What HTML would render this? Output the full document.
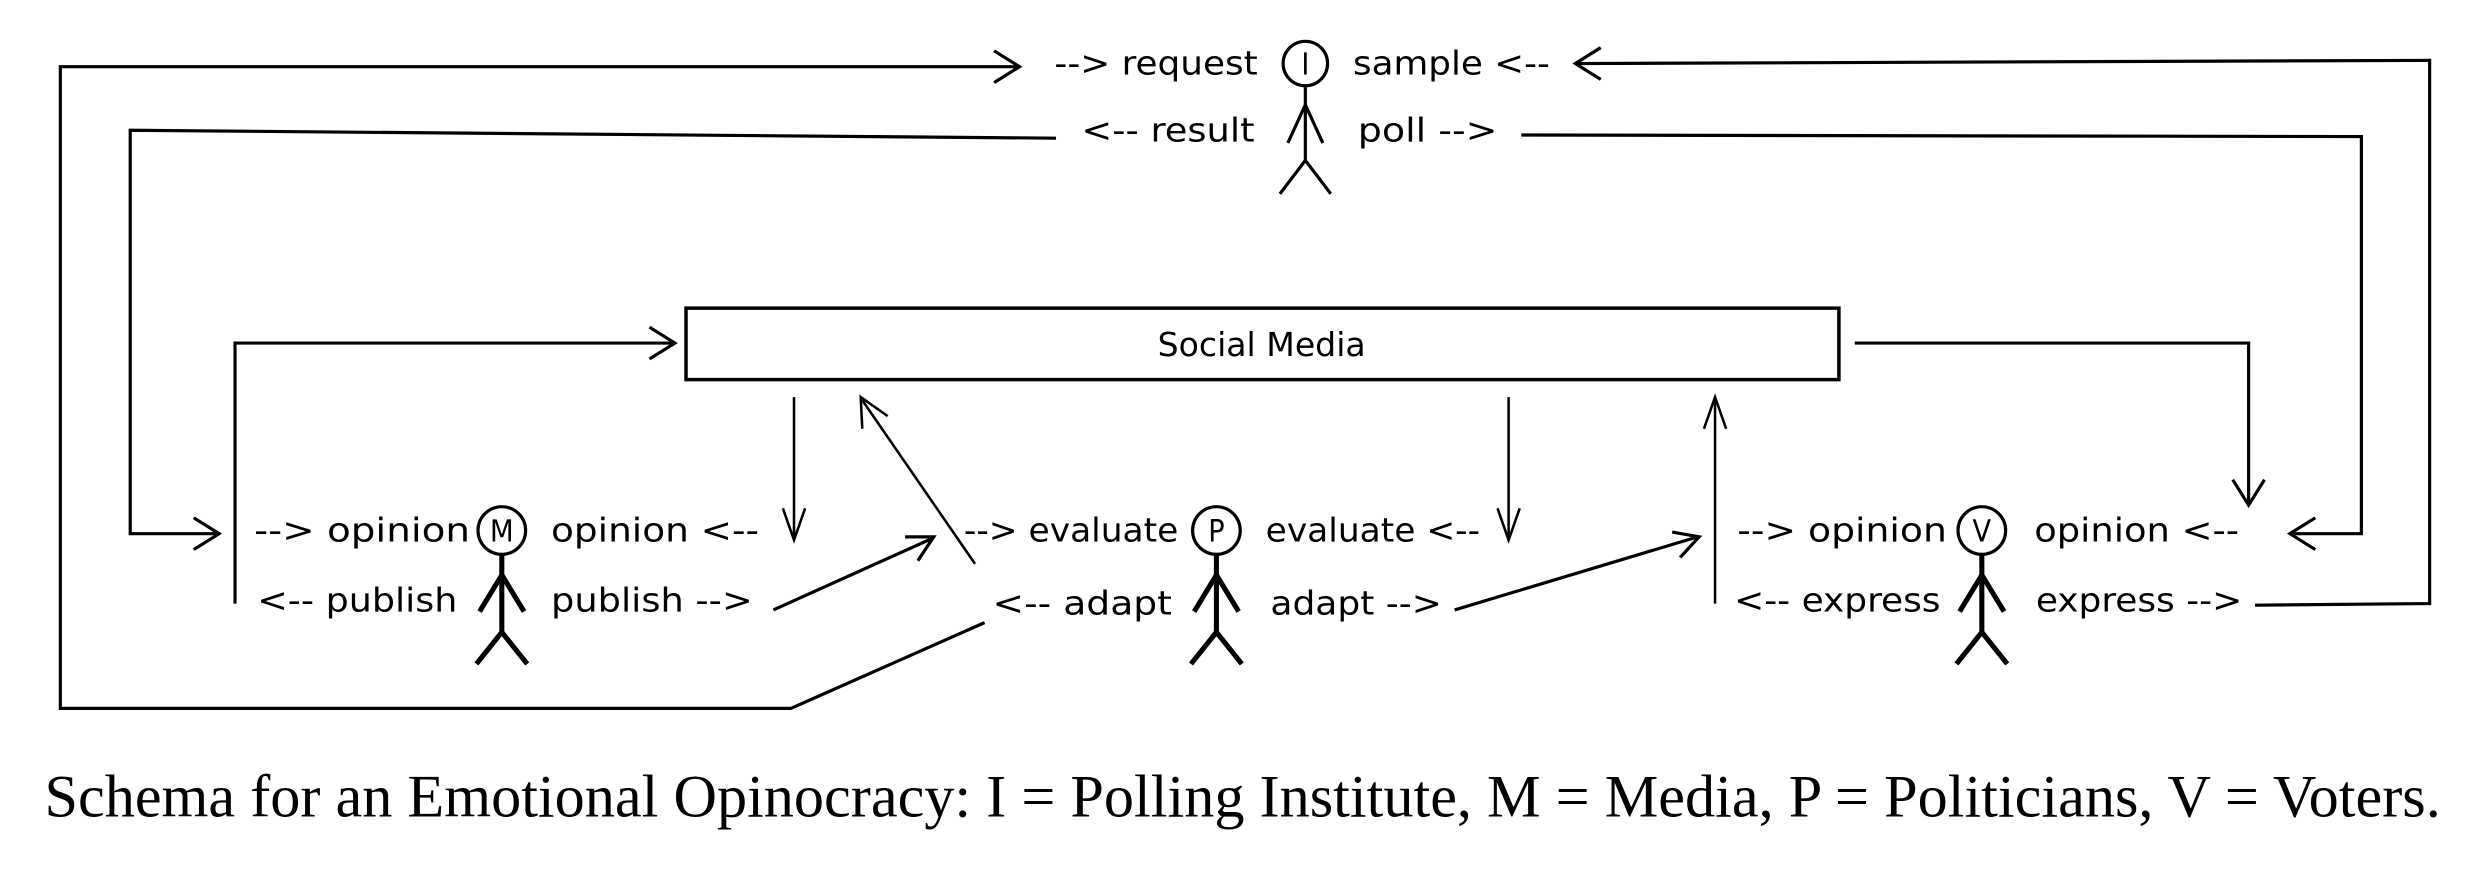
<!DOCTYPE html>
<html><head><meta charset="utf-8"><style>html,body{margin:0;padding:0;background:#fff;}svg{display:block}</style></head>
<body>
<svg width="2490" height="872" viewBox="0 0 1568 549" preserveAspectRatio="none" xmlns="http://www.w3.org/2000/svg">
<g fill="none" stroke="#000" stroke-width="2" stroke-linejoin="miter">
<polyline points="620,392 498,446 38,446 38,42 640,42"/>
<polyline points="626,32 642,42 626,52"/>
<polyline points="665,87 82,82 82,336 136,336"/>
<polyline points="122,326 138,336 122,346"/>
<polyline points="148,380 148,216 423,216"/>
<polyline points="409,206 425,216 409,226"/>
<rect x="432" y="194" width="726" height="45" stroke-width="2.2"/>
<polyline points="1168,216 1416,216 1416,316"/>
<polyline points="1406,302 1416,318 1426,302"/>
<polyline points="958,85 1487,86 1487,336 1444,336"/>
<polyline points="1458,326 1442,336 1458,346"/>
<polyline points="1420,381 1530,380 1530,38 994,40"/>
<polyline points="1008,30 992,40 1008,50"/>
<line x1="500" y1="250" x2="500" y2="338" stroke-width="1.6"/>
<polyline points="493,320 500,340 507,320" stroke-width="1.6"/>
<line x1="950" y1="250" x2="950" y2="338" stroke-width="1.6"/>
<polyline points="943,320 950,340 957,320" stroke-width="1.6"/>
<line x1="614" y1="355" x2="543" y2="252" stroke-width="1.6"/>
<polyline points="543,270 542,250 559,262" stroke-width="1.6"/>
<line x1="487" y1="384" x2="587" y2="339"/>
<polyline points="570,338 588,338 578,353"/>
<line x1="916" y1="384" x2="1069" y2="338"/>
<polyline points="1053,335 1070,338 1058,351"/>
<line x1="1080" y1="380" x2="1080" y2="252" stroke-width="1.6"/>
<polyline points="1073,270 1080,250 1087,270" stroke-width="1.6"/>
<g stroke-width="2">
<circle cx="822" cy="40" r="14"/>
<line x1="822" y1="54" x2="822" y2="101"/>
<polyline points="811,90 822,66 833,90"/>
<polyline points="806,122 822,101 838,122"/>
</g>
<g stroke-width="3.2">
<circle cx="316" cy="334" r="15" stroke-width="2"/>
<line x1="316" y1="349" x2="316" y2="398"/>
<polyline points="302,385 316,362 330,385"/>
<polyline points="300,418 316,398 332,418"/>
<circle cx="766" cy="334" r="15" stroke-width="2"/>
<line x1="766" y1="349" x2="766" y2="398"/>
<polyline points="752,385 766,362 780,385"/>
<polyline points="750,418 766,398 782,418"/>
<circle cx="1248" cy="334" r="15" stroke-width="2"/>
<line x1="1248" y1="349" x2="1248" y2="398"/>
<polyline points="1234,385 1248,362 1262,385"/>
<polyline points="1232,418 1248,398 1264,418"/>
</g>
</g>
<g font-family="'DejaVu Sans Condensed','DejaVu Sans',sans-serif" font-size="21" fill="#000">
<text x="664" y="47" textLength="128" lengthAdjust="spacingAndGlyphs">--&gt; request</text>
<text x="852" y="47" textLength="124" lengthAdjust="spacingAndGlyphs">sample &lt;--</text>
<text x="681" y="89" textLength="109" lengthAdjust="spacingAndGlyphs">&lt;-- result</text>
<text x="855" y="89" textLength="88" lengthAdjust="spacingAndGlyphs">poll --&gt;</text>
<text x="729" y="224" textLength="131" lengthAdjust="spacingAndGlyphs">Social Media</text>
<text x="160" y="341" textLength="136" lengthAdjust="spacingAndGlyphs">--&gt; opinion</text>
<text x="347" y="341" textLength="131" lengthAdjust="spacingAndGlyphs">opinion &lt;--</text>
<text x="162" y="385" textLength="126" lengthAdjust="spacingAndGlyphs">&lt;-- publish</text>
<text x="347" y="385" textLength="127" lengthAdjust="spacingAndGlyphs">publish --&gt;</text>
<text x="607" y="341" textLength="135" lengthAdjust="spacingAndGlyphs">--&gt; evaluate</text>
<text x="797" y="341" textLength="135" lengthAdjust="spacingAndGlyphs">evaluate &lt;--</text>
<text x="625" y="387" textLength="113" lengthAdjust="spacingAndGlyphs">&lt;-- adapt</text>
<text x="800" y="387" textLength="108" lengthAdjust="spacingAndGlyphs">adapt --&gt;</text>
<text x="1094" y="341" textLength="132" lengthAdjust="spacingAndGlyphs">--&gt; opinion</text>
<text x="1281" y="341" textLength="129" lengthAdjust="spacingAndGlyphs">opinion &lt;--</text>
<text x="1092" y="385" textLength="130" lengthAdjust="spacingAndGlyphs">&lt;-- express</text>
<text x="1282" y="385" textLength="130" lengthAdjust="spacingAndGlyphs">express --&gt;</text>
<text x="822" y="47" text-anchor="middle" font-size="19">I</text>
<text x="316" y="341" text-anchor="middle" font-size="19" textLength="15" lengthAdjust="spacingAndGlyphs">M</text>
<text x="766" y="341" text-anchor="middle" font-size="19">P</text>
<text x="1248" y="341" text-anchor="middle" font-size="19">V</text>
</g>
<text x="28" y="514" font-family="'Liberation Serif',serif" font-size="38" textLength="1509" lengthAdjust="spacingAndGlyphs" fill="#000">Schema for an Emotional Opinocracy: I = Polling Institute, M = Media, P = Politicians, V = Voters.</text>
</svg>
</body></html>
